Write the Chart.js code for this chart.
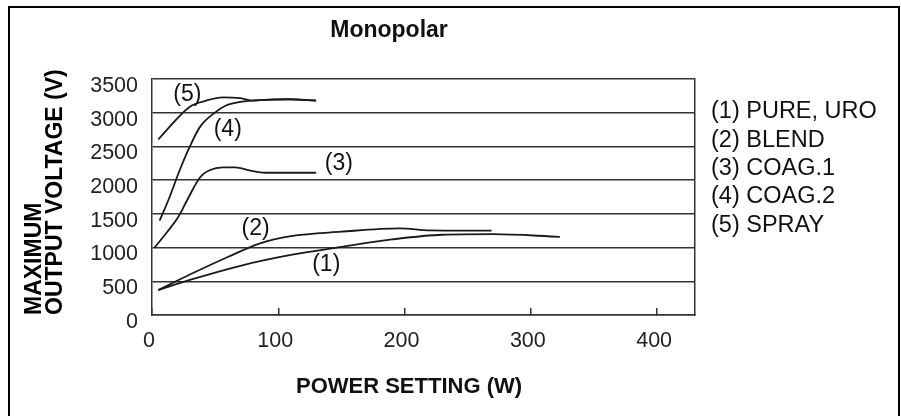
<!DOCTYPE html>
<html><head><meta charset="utf-8">
<script src="https://cdn.jsdelivr.net/npm/chart.js@4.4.0/dist/chart.umd.min.js"></script>
<style>
html,body{margin:0;padding:0;background:#fff;}
#wrap{position:relative;width:901px;height:416px;overflow:hidden;}
#frame{position:absolute;left:8px;top:6px;width:888px;height:430px;border:2.5px solid #000;border-bottom:none;pointer-events:none;}
canvas{position:absolute;left:0;top:0;}
</style></head><body>
<div id="wrap"><canvas id="c" width="901" height="416"></canvas><div id="frame"></div></div>
<script>
const chartTitle = 'Monopolar';
const xAxisTitle = 'POWER SETTING (W)';
const yAxisTitle = ['MAXIMUM', 'OUTPUT VOLTAGE (V)'];
const seriesNames = ['(1) PURE, URO', '(2) BLEND', '(3) COAG.1', '(4) COAG.2', '(5) SPRAY'];
const curveTags = ['(1)', '(2)', '(3)', '(4)', '(5)'];
const xTicks = [0, 100, 200, 300, 400];
const yTicks = [0, 500, 1000, 1500, 2000, 2500, 3000, 3500];

// (1) PURE, URO
const pureW = [5, 30, 70, 110, 150, 190, 230, 270, 323];
const pureV = [370, 520, 730, 890, 1010, 1120, 1190, 1198, 1160];
// (2) BLEND
const blendW = [5, 30, 60, 85, 110, 150, 196, 220, 269];
const blendV = [370, 600, 860, 1060, 1170, 1235, 1285, 1255, 1250];
// (3) COAG.1
const coag1W = [2, 12, 21, 28, 38, 46, 56, 66, 78, 90, 130];
const coag1V = [1000, 1230, 1460, 1710, 2040, 2150, 2190, 2190, 2140, 2110, 2110];
// (4) COAG.2
const coag2W = [6, 13, 22, 30, 38, 49, 59, 70, 91, 109, 130];
const coag2V = [1400, 1705, 2150, 2500, 2790, 2990, 3110, 3160, 3190, 3200, 3180];
// (5) SPRAY
const sprayW = [5, 30, 43, 56, 70, 80, 96, 109, 130];
const sprayV = [2605, 3090, 3180, 3228, 3215, 3180, 3198, 3198, 3178];

// curve tag anchors (data units)
const tagW = [138, 82, 148, 60, 28];
const tagV = [740, 1275, 2240, 2745, 3275];

const FONT = '"Liberation Sans", Arial, Helvetica, sans-serif';
Chart.defaults.font.family = FONT;

const seriesW = [pureW, blendW, coag1W, coag2W, sprayW];
const seriesV = [pureV, blendV, coag1V, coag2V, sprayV];

const datasets = seriesNames.map((name, i) => ({
  label: name,
  data: seriesW[i].map((w, j) => ({x: w, y: seriesV[i][j]})),
  borderColor: '#1a1a1a',
  borderWidth: 1.8,
  pointRadius: 0,
  fill: false,
  cubicInterpolationMode: 'monotone'
}));

const textPlugin = {
  id: 'texts',
  afterDraw(chart) {
    const {ctx} = chart;
    const xs = chart.scales.x, ys = chart.scales.y;
    ctx.save();
    ctx.fillStyle = '#111';
    ctx.textBaseline = 'middle';
    ctx.textAlign = 'center';
    ctx.font = 'bold 23px ' + FONT;
    ctx.fillText(chartTitle, 389, 31);
    ctx.font = 'bold 22px ' + FONT;
    ctx.fillText(xAxisTitle, 409, 387);
    ctx.font = '23px ' + FONT;
    curveTags.forEach((t, i) => {
      ctx.fillText(t, xs.getPixelForValue(tagW[i]), ys.getPixelForValue(tagV[i]));
    });
    ctx.textAlign = 'left';
    ctx.font = '23.5px ' + FONT;
    seriesNames.forEach((t, i) => ctx.fillText(t, 711, 112 + i * 28.3));
    ctx.restore();
  }
};

new Chart(document.getElementById('c'), {
  type: 'line',
  data: {datasets},
  plugins: [textPlugin],
  options: {
    responsive: false,
    animation: false,
    devicePixelRatio: 1,
    layout: {padding: {left: 0, top: 79, right: 206, bottom: 0}},
    plugins: {legend: {display: false}, tooltip: {enabled: false}, title: {display: false}},
    scales: {
      x: {
        type: 'linear', position: 'bottom', min: 0, max: 430,
        afterFit(s) { s.height = 101; },
        afterBuildTicks(s) { s.ticks = xTicks.map(v => ({value: v})); },
        ticks: {padding: 20, labelOffset: -3, color: '#222', font: {size: 21.5}, maxRotation: 0, autoSkip: false,
          callback: v => String(v)},
        grid: {drawOnChartArea: false, drawTicks: true, tickLength: -7, color: '#333', lineWidth: 1.5},
        border: {display: true, color: '#333', width: 1.5}
      },
      y: {
        type: 'linear', position: 'left', min: 0, max: 3500,
        afterFit(s) { s.width = 152; },
        afterBuildTicks(s) { s.ticks = yTicks.map(v => ({value: v})); },
        ticks: {padding: 14, labelOffset: 7, color: '#222', font: {size: 21.5}, autoSkip: false,
          callback: v => String(v)},
        grid: {drawTicks: false, color: '#333', lineWidth: 1.5},
        border: {display: true, color: '#333', width: 1.5},
        title: {display: true, text: yAxisTitle, align: 'start', color: '#000',
          font: {size: 23, weight: 'bold', lineHeight: 0.913}, padding: {top: 24.5, bottom: 0}}
      },
      yRight: {
        type: 'linear', position: 'right', display: true,
        afterFit(s) { s.width = 0; },
        ticks: {display: false},
        grid: {display: true, drawOnChartArea: false, drawTicks: false},
        border: {display: true, color: '#333', width: 1.5}
      }
    }
  }
});
</script>
</body></html>
